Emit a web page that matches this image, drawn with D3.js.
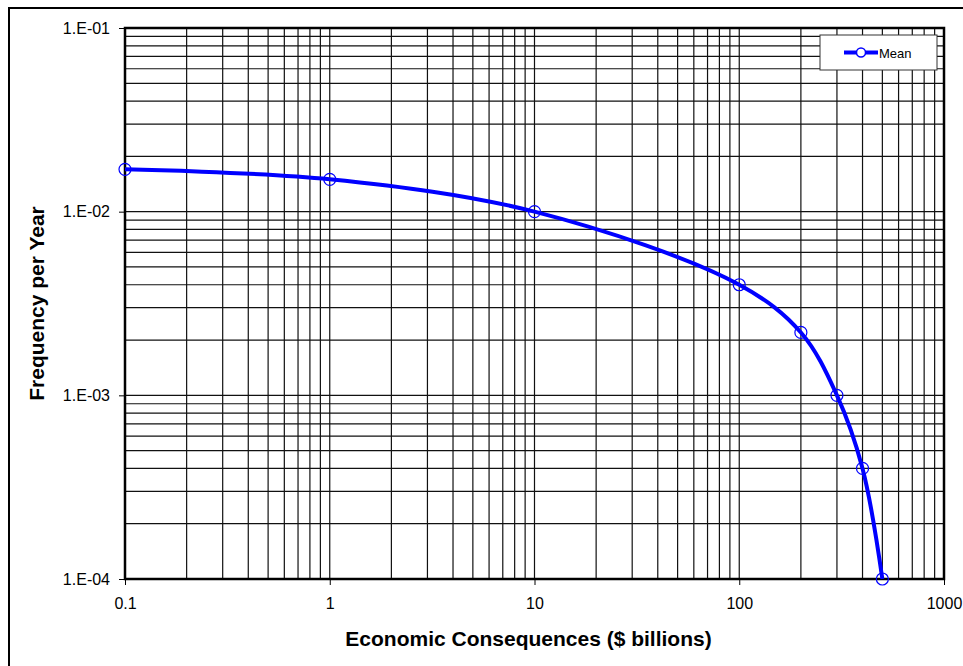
<!DOCTYPE html>
<html>
<head>
<meta charset="UTF-8">
<title>Frequency vs Economic Consequences</title>
<style>
  body { margin: 0; background: #fff; }
  svg text { font-family: "Liberation Sans", Arial, sans-serif; fill: #000; }
</style>
</head>
<body>
<div id="chart"></div>
<script src="https://cdn.jsdelivr.net/npm/d3@7"></script>
<script>
// data
const consequences = [0.1, 1, 10, 100, 200, 300, 400, 500];
const frequency = [0.017, 0.015, 0.01, 0.004, 0.0022, 0.001, 0.0004, 0.0001];
const seriesName = "Mean";
const xTicks = [0.1, 1, 10, 100, 1000];
const yTicks = [1e-4, 1e-3, 1e-2, 1e-1];
const yTickLabels = ["1.E-04", "1.E-03", "1.E-02", "1.E-01"];

const W = 963, H = 666;
const plot = { left: 125, top: 28, right: 944, bottom: 579 };

const svg = d3.select("#chart").append("svg")
    .attr("width", W)
    .attr("height", H);

// outer frame (only left/top edges fall inside the picture)
svg.append("rect")
    .attr("x", 9).attr("y", 8)
    .attr("width", 1000).attr("height", 700)
    .attr("fill", "none")
    .attr("stroke", "#000")
    .attr("stroke-width", 2);

const x = d3.scaleLog().domain([0.1, 1000]).range([plot.left, plot.right]);
const y = d3.scaleLog().domain([1e-4, 1e-1]).range([plot.bottom, plot.top]);

// minor + major grid lines, 1..9 in each decade
const gridX = [], gridY = [];
for (let e = -1; e < 3; e++) for (let m = 1; m < 10; m++) gridX.push(m * Math.pow(10, e));
for (let e = -4; e < -1; e++) for (let m = 1; m < 10; m++) gridY.push(m * Math.pow(10, e));

const grid = svg.append("g").attr("stroke", "#111").attr("stroke-width", 1.2);
grid.selectAll(".gx").data(gridX).enter().append("line")
    .attr("x1", d => x(d)).attr("x2", d => x(d))
    .attr("y1", plot.top).attr("y2", plot.bottom);
grid.selectAll(".gy").data(gridY).enter().append("line")
    .attr("y1", d => y(d)).attr("y2", d => y(d))
    .attr("x1", plot.left).attr("x2", plot.right);

// axes
svg.append("g")
    .attr("transform", `translate(0,${plot.bottom})`)
    .call(d3.axisBottom(x).tickValues(xTicks).tickFormat(d3.format("~g")).tickSize(6).tickPadding(13))
    .call(g => g.select(".domain").remove())
    .call(g => g.selectAll("text").attr("font-size", 16).attr("font-family", "Liberation Sans, Arial, sans-serif"));

svg.append("g")
    .attr("transform", `translate(${plot.left},0)`)
    .call(d3.axisLeft(y).tickValues(yTicks).tickFormat((d, i) => yTickLabels[i]).tickSize(6).tickPadding(9))
    .call(g => g.select(".domain").remove())
    .call(g => g.selectAll("text").attr("font-size", 16).attr("font-family", "Liberation Sans, Arial, sans-serif"));

// plot border
svg.append("rect")
    .attr("x", plot.left).attr("y", plot.top)
    .attr("width", plot.right - plot.left)
    .attr("height", plot.bottom - plot.top)
    .attr("fill", "none")
    .attr("stroke", "#000")
    .attr("stroke-width", 2.5);

// smoothed series
const pts = consequences.map((c, i) => [x(c), y(frequency[i])]);
svg.append("path")
    .datum(pts)
    .attr("d", d3.line().curve(d3.curveCatmullRom.alpha(0.5)))
    .attr("fill", "none")
    .attr("stroke", "#0000ff")
    .attr("stroke-width", 4);

svg.selectAll(".pt").data(pts).enter().append("circle")
    .attr("cx", d => d[0]).attr("cy", d => d[1])
    .attr("r", 6)
    .attr("fill", "none")
    .attr("stroke", "#0000ff")
    .attr("stroke-width", 1.2);

// legend
const lg = svg.append("g").attr("transform", "translate(820,35)");
lg.append("rect")
    .attr("width", 117).attr("height", 35)
    .attr("fill", "#fff")
    .attr("stroke", "#333")
    .attr("stroke-width", 1);
lg.append("line")
    .attr("x1", 24).attr("x2", 58).attr("y1", 17.5).attr("y2", 17.5)
    .attr("stroke", "#0000ff").attr("stroke-width", 4);
lg.append("circle")
    .attr("cx", 41).attr("cy", 17.5).attr("r", 4.5)
    .attr("fill", "#fff")
    .attr("stroke", "#0000ff").attr("stroke-width", 1.5);
lg.append("text")
    .attr("x", 59).attr("y", 22.5)
    .attr("font-size", 13)
    .text(seriesName);

// axis titles
svg.append("text")
    .attr("x", (plot.left + plot.right) / 2 - 6)
    .attr("y", 646)
    .attr("text-anchor", "middle")
    .attr("font-size", 21)
    .attr("font-weight", "bold")
    .text("Economic Consequences ($ billions)");

svg.append("text")
    .attr("transform", `translate(44,${(plot.top + plot.bottom) / 2}) rotate(-90)`)
    .attr("text-anchor", "middle")
    .attr("font-size", 21)
    .attr("font-weight", "bold")
    .text("Frequency per Year");
</script>
</body>
</html>
